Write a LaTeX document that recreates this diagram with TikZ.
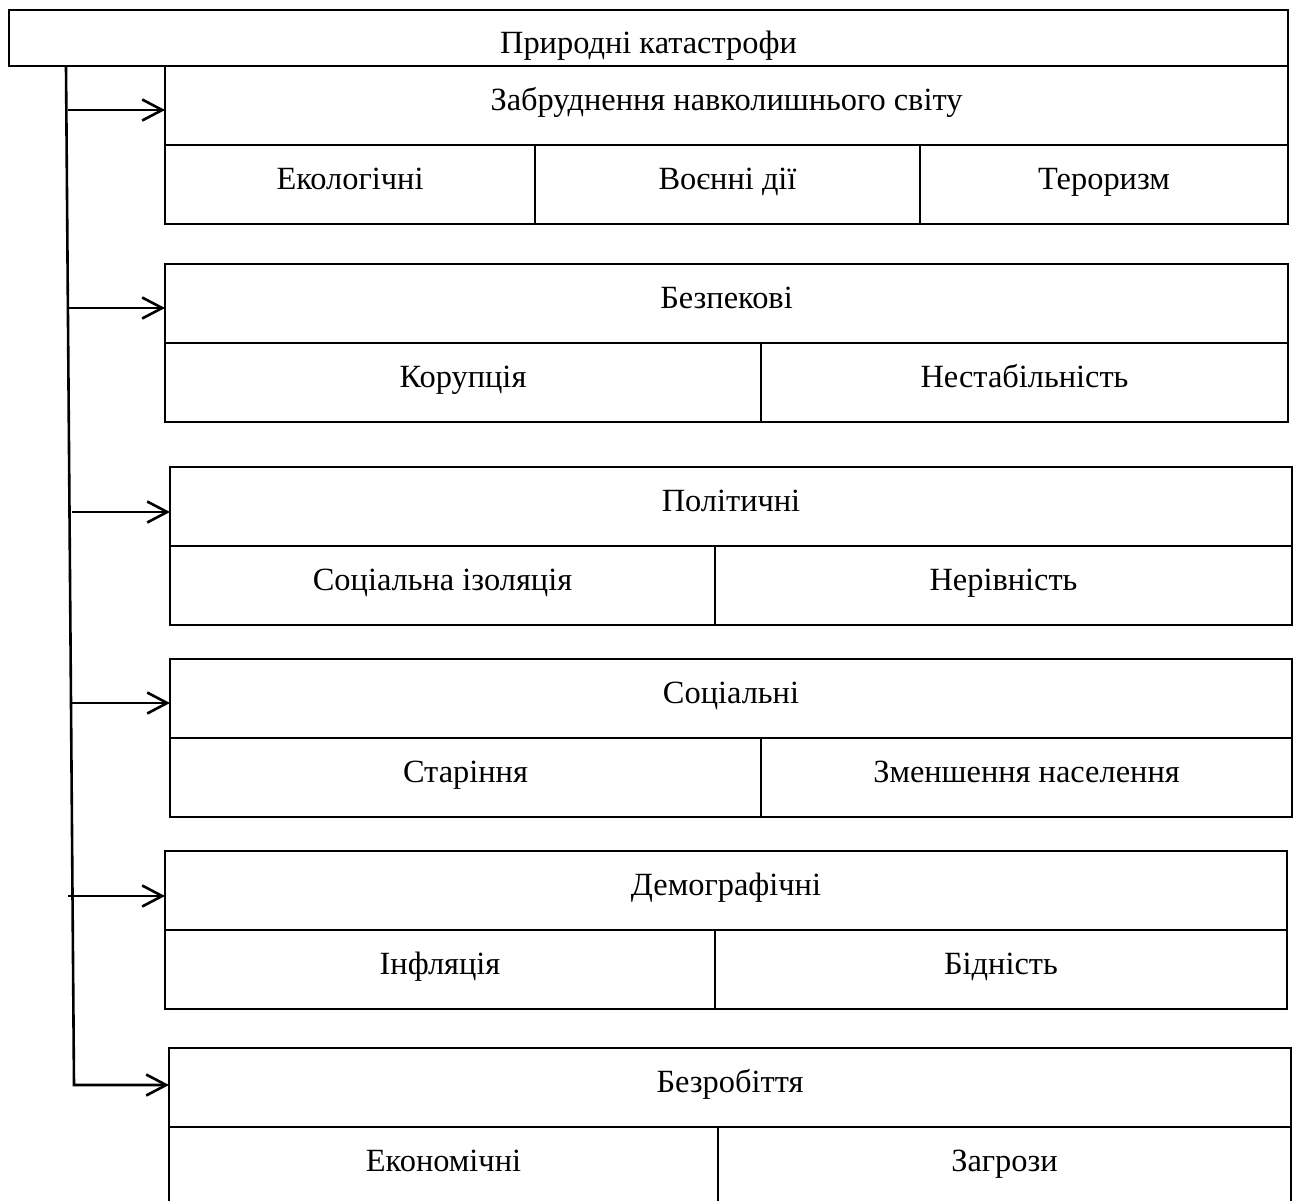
\documentclass[tikz,border=0pt]{standalone}
\usepackage{fontspec}
\setmainfont{LiberationSerif}[Extension=.ttf, UprightFont=*-Regular, BoldFont=*-Bold]
\usetikzlibrary{arrows.meta}

\tikzset{
  box/.style={draw, line width=1.3pt, outer sep=0pt, inner sep=0pt,
    anchor=north west, minimum height=39.5pt,
    text height=12pt, text depth=7pt,
    font=\fontsize{16.2}{20}\selectfont},
  arr/.style={line width=1.3pt, -{Straight Barb[length=10pt,width=10.5pt]}}
}

\begin{document}
\begin{tikzpicture}[x=0.5pt,y=-0.5pt]
    \useasboundingbox (0,0) rectangle (1296,1200);

    % root
    \node[box, minimum width=639.5pt, minimum height=28pt, text height=15pt, text depth=0pt] (root) at (9,10) {Природні катастрофи};

    % group 1
    \node[box, minimum width=561.5pt] (g1t) at (165,66) {Забруднення навколишнього світу};
    \node[box, minimum width=185pt] (g1a) at (165,145) {Екологічні};
    \node[box, minimum width=192.5pt] (g1b) at (535,145) {Воєнні дії};
    \node[box, minimum width=184pt] (g1c) at (920,145) {Тероризм};

    % group 2
    \node[box, minimum width=561.5pt] (g2t) at (165,264) {Безпекові};
    \node[box, minimum width=298pt] (g2a) at (165,343) {Корупція};
    \node[box, minimum width=263.5pt] (g2b) at (761,343) {Нестабільність};

    % group 3
    \node[box, minimum width=561pt] (g3t) at (170,467) {Політичні};
    \node[box, minimum width=272.5pt] (g3a) at (170,546) {Соціальна ізоляція};
    \node[box, minimum width=288.5pt] (g3b) at (715,546) {Нерівність};

    % group 4
    \node[box, minimum width=561pt] (g4t) at (170,659) {Соціальні};
    \node[box, minimum width=295.5pt] (g4a) at (170,738) {Старіння};
    \node[box, minimum width=265.5pt] (g4b) at (761,738) {Зменшення населення};

    % group 5
    \node[box, minimum width=561pt] (g5t) at (165,851) {Демографічні};
    \node[box, minimum width=275pt] (g5a) at (165,930) {Інфляція};
    \node[box, minimum width=286pt] (g5b) at (715,930) {Бідність};

    % group 6
    \node[box, minimum width=561pt] (g6t) at (169,1048) {Безробіття};
    \node[box, minimum width=274.5pt] (g6a) at (169,1127) {Економічні};
    \node[box, minimum width=286.5pt] (g6b) at (718,1127) {Загрози};

    % trunk and arrows
    \coordinate (tr0) at (66,66);
    \coordinate (tr1) at (74,1085);
    \draw[arr] (tr0) -- (tr1) -- (tr1 -| g6t.west);
    \foreach \x/\y/\g in {68/110/g1t, 68/308/g2t, 72/512/g3t, 72/703/g4t, 68/896/g5t}
    {
      \coordinate (s\g) at (\x,\y);
      \draw[arr] (s\g) -- (s\g -| \g.west);
    }

\end{tikzpicture}
\end{document}
